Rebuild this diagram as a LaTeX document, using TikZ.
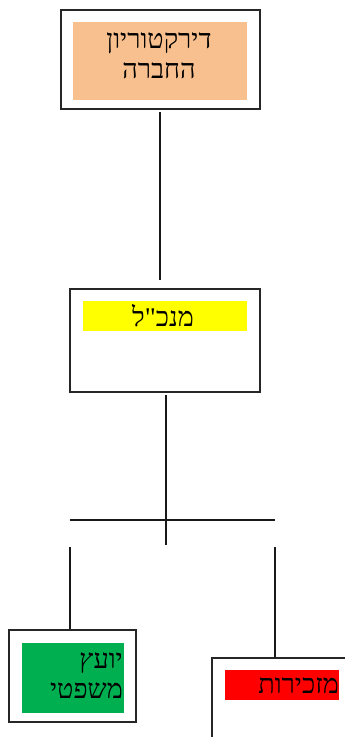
\documentclass[tikz,border=0pt]{standalone}
\usepackage{fontspec}
\newfontfamily\hebfont[Script=Hebrew]{Liberation Serif}
\TeXXeTstate=1
\definecolor{boxorange}{HTML}{F8C08F}
\definecolor{boxgreen}{HTML}{00B050}
\definecolor{boxred}{HTML}{FF0000}
\definecolor{boxyellow}{HTML}{FFFF00}
\begin{document}
\begin{tikzpicture}[x=1pt,y=-1pt,
  outerbox/.style={draw=black!85,line width=2pt,fill=white,inner sep=0pt,anchor=north west},
  fillbox/.style={draw=none,inner sep=0pt,anchor=north west},
  conn/.style={line width=1.6pt,draw=black!90},
  lbl/.style={font=\hebfont\fontsize{27}{30}\selectfont,text=black,inner sep=0pt}]
\useasboundingbox (0,0) rectangle (345,737);
\clip (0,0) rectangle (345,737);
% box 1
\node[outerbox,minimum width=199pt,minimum height=99pt] (b1) at (60,9) {};
\node[fillbox,fill=boxorange,minimum width=174pt,minimum height=78pt] (f1) at (73,22) {};
\node[lbl,align=center] (t1) at (159,56) {\beginR דירקטוריון\endR\\\beginR החברה\endR};
% box 2
\node[outerbox,minimum width=190pt,minimum height=103pt] (b2) at (69,288) {};
\node[fillbox,fill=boxyellow,minimum width=164pt,minimum height=30pt] (f2) at (83,301) {};
\node[lbl] (t2) at (163,316) {\beginR מנכ"ל\endR};
% box 3
\node[outerbox,minimum width=127pt,minimum height=92pt] (b3) at (8,629) {};
\node[fillbox,fill=boxgreen,minimum width=102pt,minimum height=70pt] (f3) at (22,643) {};
\node[lbl,align=right,anchor=east] (t3) at (123,676) {\beginR יועץ\endR\\\beginR משפטי\endR};
% box 4
\node[outerbox,minimum width=140pt,minimum height=90pt] (b4) at (211,657) {};
\node[fillbox,fill=boxred,minimum width=114pt,minimum height=30pt] (f4) at (225,670) {};
\node[lbl,anchor=east] (t4) at (339,686) {\beginR מזכירות\endR};
% connectors
\coordinate (c1a) at (160,112);
\coordinate (c1b) at (160,280);
\coordinate (c2a) at (166,395);
\coordinate (c2b) at (166,545);
\coordinate (hL) at (70,520);
\coordinate (hR) at (275,520);
\coordinate (vL) at (70,547);
\coordinate (vR) at (275,547);
\draw[conn] (c1a) -- (c1b);
\draw[conn] (c2a) -- (c2b);
\draw[conn] (hL) -- (hR);
\draw[conn] (vL) -- (b3.north -| vL);
\draw[conn] (vR) -- (b4.north -| vR);
\end{tikzpicture}
\end{document}
